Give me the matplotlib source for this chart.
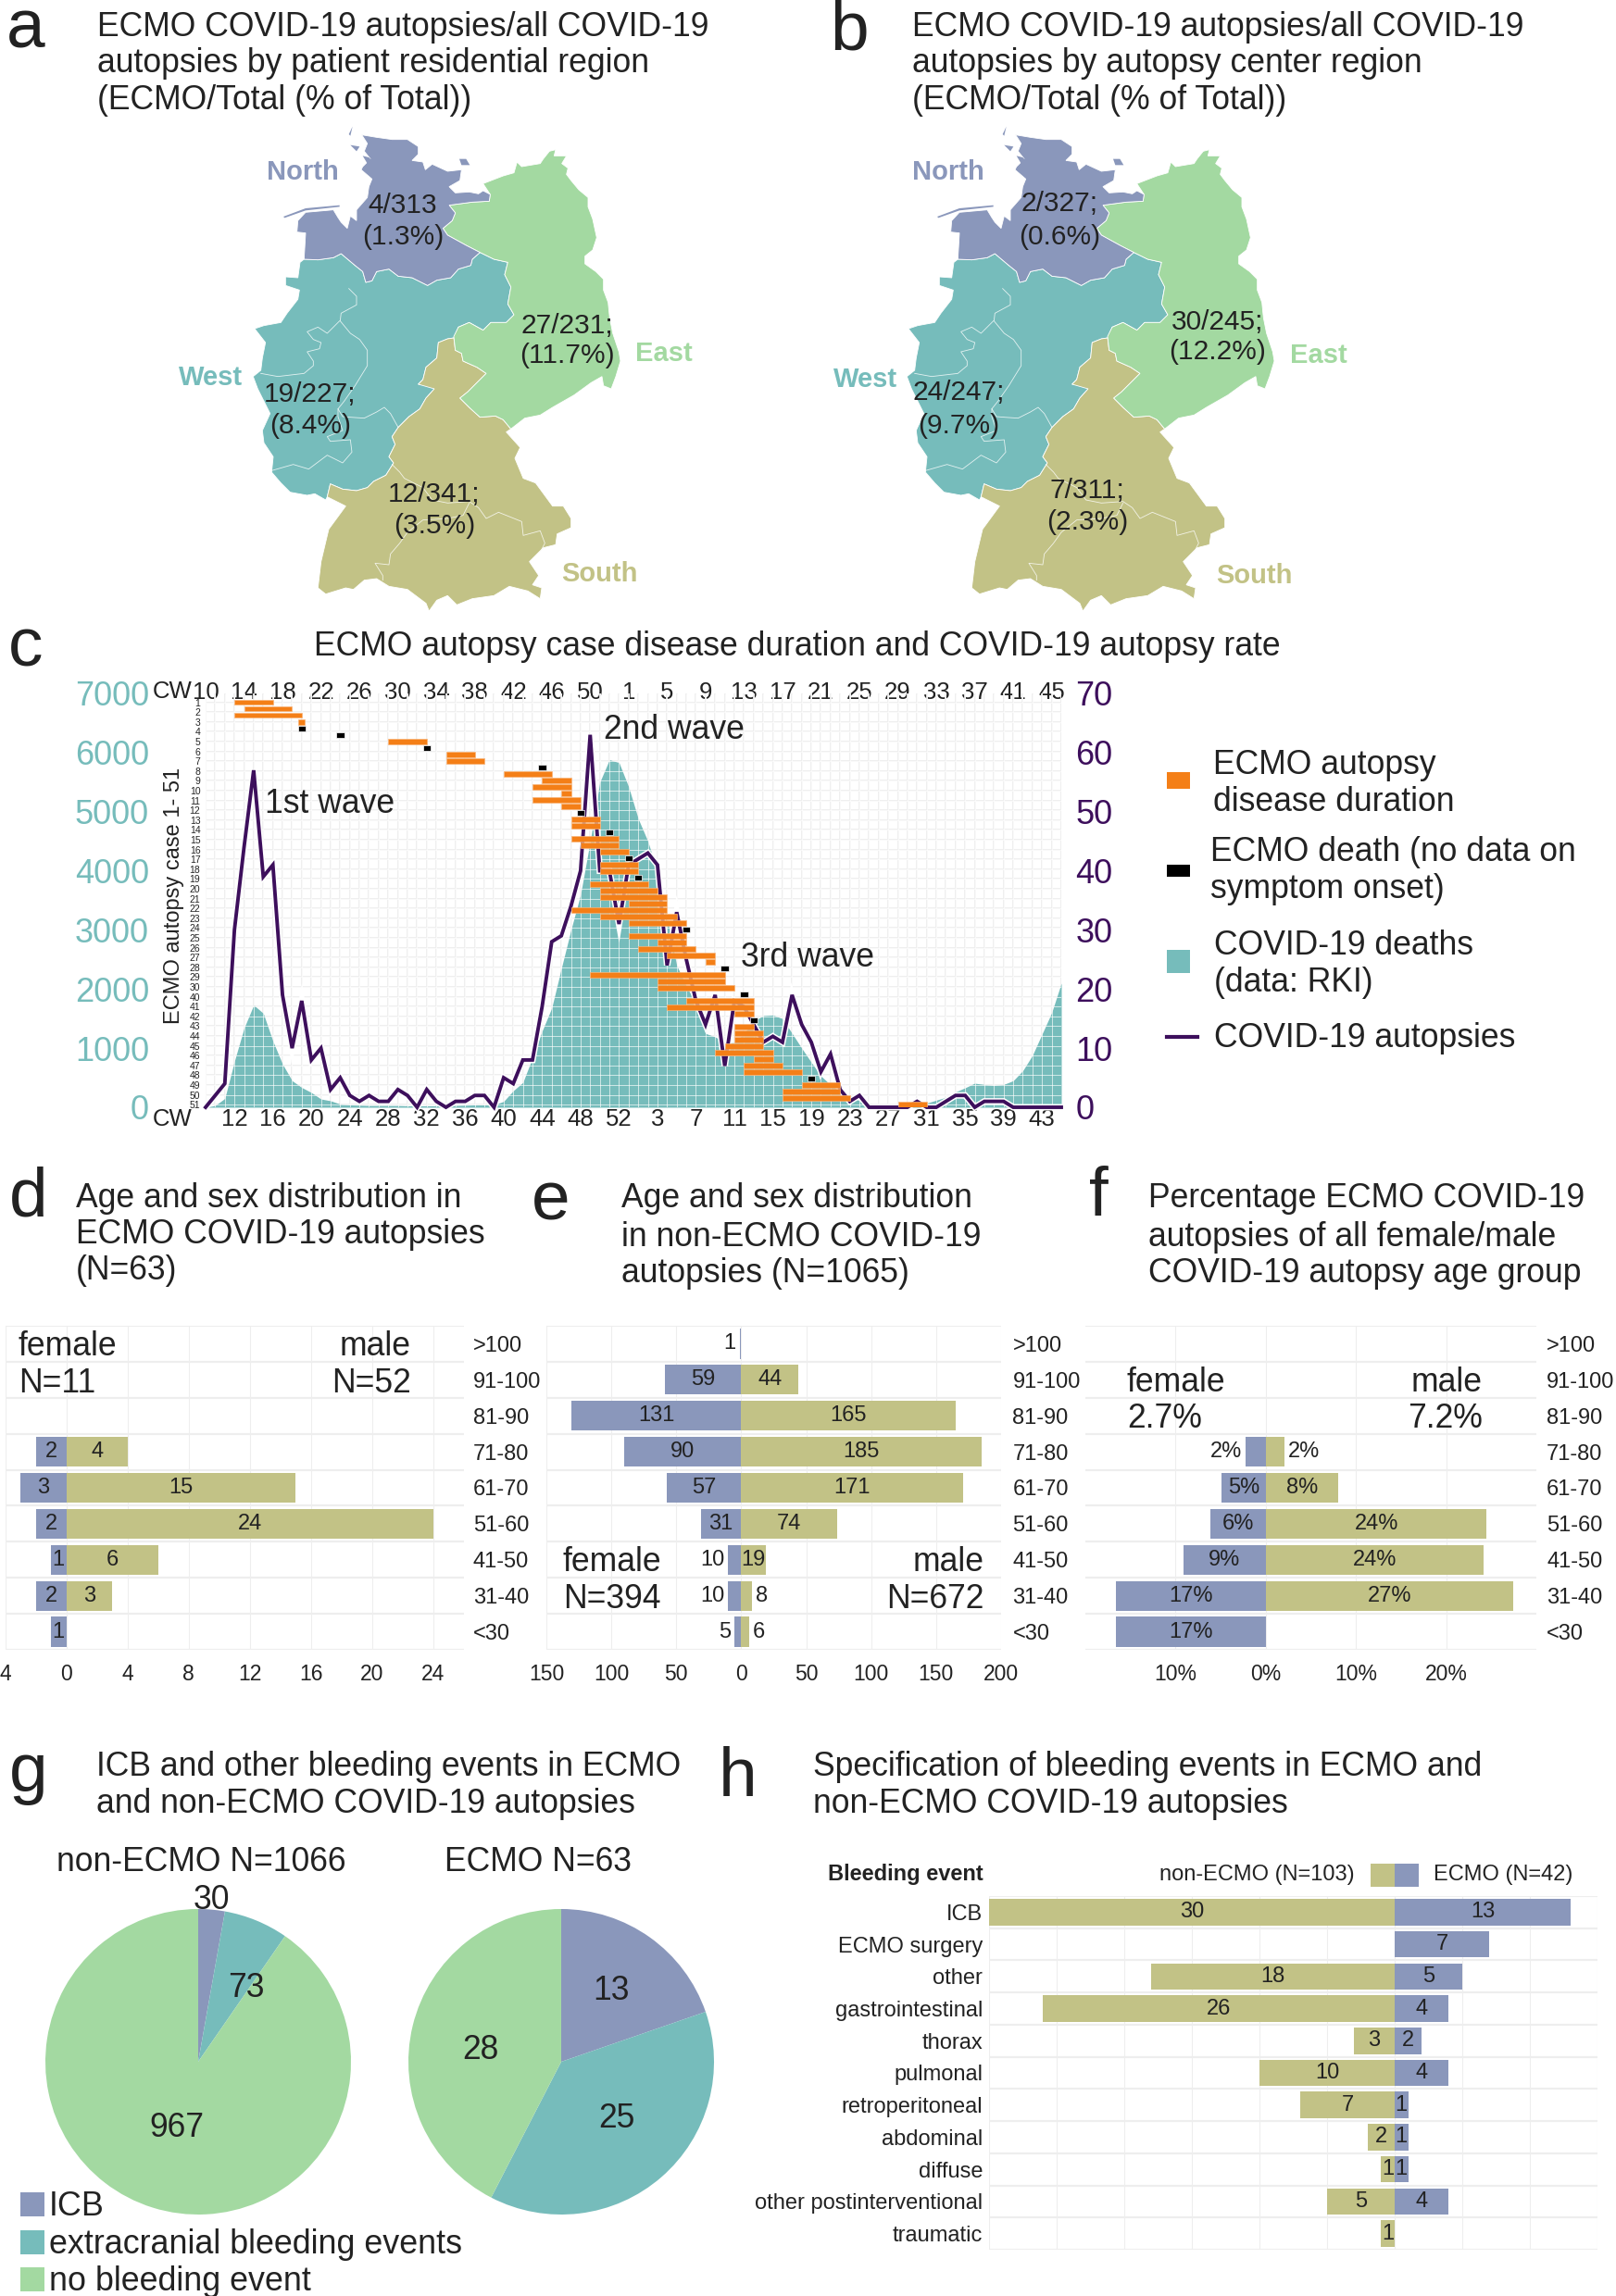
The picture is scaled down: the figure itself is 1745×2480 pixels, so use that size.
import numpy as np
import matplotlib
matplotlib.use("Agg")
import matplotlib.pyplot as plt
from matplotlib.patches import Polygon, Rectangle
import matplotlib.patheffects as pe

plt.rcParams['font.family'] = ['Liberation Sans', 'DejaVu Sans']

BLUE = '#8a97bb'
GREEN = '#a3d9a1'
TEAL = '#76bcbb'
OLIVE = '#c2c286'
PURPLE = '#3d0f5c'
ORANGE = '#f47f17'
INK = '#222222'
GRID = '#eeeeee'

# ---- map outlines
north_outline = [(422,47),(470,55),(520,62),(570,62),(605,85),(605,110),(585,130),(620,135),(628,160),(650,142),(700,165),(745,160),(740,195),(705,215),(725,235),(770,232),(800,238),(815,228),(838,240),(835,262),(780,265),(705,275),(725,300),(715,325),(685,350),(700,372),(760,405),(805,428),(780,450),(775,470),(735,482),(710,510),(665,518),(635,535),(585,510),(540,505),(510,482),(470,490),(455,520),(435,525),(425,490),(400,470),(355,432),(330,445),(280,452),(235,450),(240,365),(212,362),(215,325),(240,298),(330,290),(345,315),(355,330),(375,350),(385,310),(405,325),(405,290),(440,250),(445,215),(455,190),(420,160),(425,150),(450,125),(430,100),(440,75)]
east_outline = [(925,135),(940,150),(1000,140),(1010,125),(1030,100),(1050,95),(1045,115),(1085,115),(1070,140),(1090,155),(1085,175),(1100,195),(1125,225),(1155,250),(1155,280),(1170,320),(1183,380),(1170,420),(1145,440),(1145,465),(1180,490),(1205,515),(1205,550),(1220,590),(1225,640),(1235,690),(1255,750),(1260,780),(1245,830),(1230,870),(1205,860),(1200,830),(1165,850),(1110,890),(1040,930),(1000,955),(950,965),(905,1000),(880,970),(855,958),(805,962),(770,930),(740,900),(765,880),(800,845),(825,820),(795,800),(750,780),(745,755),(725,745),(720,700),(735,670),(770,655),(815,680),(840,655),(890,655),(915,630),(895,595),(905,540),(885,500),(895,460),(850,450),(805,428),(760,405),(700,372),(685,350),(715,325),(725,300),(705,275),(780,265),(835,262),(838,240),(815,205),(880,180),(915,170)]
west_outline = [(235,450),(280,452),(330,445),(355,432),(400,470),(425,490),(435,525),(455,520),(470,490),(510,482),(540,505),(585,510),(635,535),(665,518),(710,510),(735,482),(775,470),(780,450),(805,428),(850,450),(895,460),(885,500),(905,540),(895,595),(915,630),(890,655),(840,655),(815,680),(770,655),(735,670),(720,705),(700,708),(670,720),(665,770),(630,800),(620,840),(605,855),(650,860),(657,870),(630,900),(610,935),(575,960),(540,995),(520,1025),(530,1050),(510,1090),(525,1110),(500,1150),(460,1170),(440,1190),(405,1200),(360,1195),(320,1178),(310,1220),(305,1230),(270,1210),(245,1215),(190,1205),(160,1175),(130,1140),(135,1090),(105,1045),(100,1005),(125,950),(105,910),(85,870),(70,830),(95,810),(100,770),(110,720),(75,675),(105,665),(160,655),(180,625),(215,580),(220,550),(175,535),(175,507),(215,510),(222,460)]
south_outline = [(700,708),(720,705),(725,745),(745,755),(750,780),(795,800),(825,820),(800,845),(765,880),(740,900),(770,930),(805,962),(855,958),(880,970),(905,1000),(890,1010),(935,1060),(918,1095),(945,1160),(985,1175),(1040,1250),(1075,1250),(1100,1290),(1100,1320),(1055,1340),(1050,1375),(1010,1385),(965,1430),(995,1475),(975,1505),(1005,1515),(1000,1550),(960,1525),(900,1510),(850,1540),(780,1550),(730,1570),(700,1540),(665,1555),(640,1590),(630,1565),(570,1520),(510,1510),(470,1485),(430,1490),(395,1520),(370,1515),(305,1535),(280,1515),(290,1430),(315,1325),(370,1250),(310,1220),(320,1178),(360,1195),(405,1200),(440,1190),(460,1170),(500,1150),(525,1110),(510,1090),(530,1050),(520,1025),(540,995),(575,960),(610,935),(630,900),(657,870),(605,855),(620,840),(630,800),(665,770),(670,720)]
north_islands = [[(392,20),(380,45),(385,50)],[(385,80),(415,85),(405,100)],[(425,115),(445,120),(460,135),(440,140)],[(738,125),(760,125),(772,145),(745,145)],[(168,312),(240,285),(350,275),(350,280),(240,292),(172,316)]]
state_lines = [[(380,545),(405,570),(405,598),(355,625),(352,650),(385,690),(415,710),(440,745),(440,795),(400,860),(365,910),(345,935),(360,960),(385,962),(430,965),(470,945),(495,930),(515,950),(540,995)],
               [(350,650),(310,690),(280,670),(245,685),(265,710),(290,720),(285,740),(245,750),(265,780),(265,795),(235,820),(150,830),(95,820)],
               [(345,935),(345,960),(360,1005),(310,1025),(320,1040),(385,1035),(390,1075),(360,1110),(310,1085),(250,1130),(200,1115),(130,1135)],
               [(520,1115),(545,1140),(560,1160),(620,1190),(650,1230),(700,1240),(770,1235),(800,1255),(825,1290),(865,1270),(940,1300),(945,1345),(1000,1330),(1015,1370),(1005,1390)],
               [(770,1240),(750,1280),(700,1290),(620,1295),(570,1335),(545,1370),(515,1405),(510,1440),(465,1435),(490,1475),(490,1490)]]

# ---- panel c, weeks counted from CW10 of 2020
week_top = [10,14,18,22,26,30,34,38,42,46,50,1,5,9,13,17,21,25,29,33,37,41,45]
week_bottom = [12,16,20,24,28,32,36,40,44,48,52,3,7,11,15,19,23,27,31,35,39,43]
autopsies = [0,2,4,30,44,57,39,41,19,10,18,8,10,3,5,2,1,2,1,1,3,2,0,3,1,0,1,1,2,2,
             0,5,4,8,8,17,28,29,34,40,63,40,40,31,41,42,43,41,24,33,25,18,14,19,7,18,17,14,11,12,
             11,19,14,11,6,9,3,1,2,0,0,0,0,0,1,0,0,1,2,2,0,1,1,1,0,0,0,0,0,0]
deaths = [0,30,150,780,1340,1730,1590,1120,730,450,335,250,140,110,55,40,35,30,30,30,30,25,25,25,25,30,30,35,40,40,
          40,100,280,420,840,1290,1680,2350,3000,3600,4500,5500,5880,5830,5420,4880,4500,3980,3200,2400,2050,1750,1250,1190,1100,1090,1250,1456,1550,1560,
          1500,1250,1000,760,530,380,270,200,110,60,45,40,40,40,50,70,120,170,260,330,407,385,370,385,450,620,880,1240,1600,2100]
# one entry per autopsy row: (first week, last week); a single number is a death without onset data
case_rows = [(3,7),(4,9),(3,10),(9.6,10.3),10,14,(19,23),23,(25,28),(25,29),35,(31,36),(35,38),(34,38),(37,38),(34,39),(37,39),39,
             (38,41),(38,41),42,(38,43),(39,43),(41,44),44,(41,45),(41,45),45,(40,46),(41,47),(41,48),(44,48),(38,48),(41,49),(44,50),
             50,(44,50),(47,50),(45,51),(48,53),(52,53),54,(40,54),(47,54),(47,55),56,(50,57),(48,57),(55,57),57,(55,57),(55,58),(55,58),
             (54,58),(53,59),(57,59),(56,60),(56,62),63,(62,66),(60,66),(60,67),(72,75)]
row_labels = [str(i) for i in range(1,31)] + [str(i) for i in range(40,52)]

# ---- panels d, e, f
ages = ['>100','91-100','81-90','71-80','61-70','51-60','41-50','31-40','<30']
ecmo_female = [0,0,0,2,3,2,1,2,1]
ecmo_male = [0,0,0,4,15,24,6,3,0]
non_female = [1,59,131,90,57,31,10,10,5]
non_male = [0,44,165,185,171,74,19,8,6]
pct_female = [0,0,0,2.2,4.9,6.1,9.1,16.6,16.6]
pct_male = [0,0,0,2.1,8.0,24.5,24.1,27.4,0]
pct_female_labels = ['','','','2%','5%','6%','9%','17%','17%']
pct_male_labels = ['','','','2%','8%','24%','24%','27%','']

# ---- panel g, h
pie_labels = ['ICB','extracranial bleeding events','no bleeding event']
pie_non = [30,73,967]
pie_ecmo = [13,25,28]
events = ['ICB','ECMO surgery','other','gastrointestinal','thorax','pulmonal','retroperitoneal','abdominal','diffuse','other postinterventional','traumatic']
events_non = [30,0,18,26,3,10,7,2,1,5,1]
events_ecmo = [13,7,5,4,2,4,1,1,1,4,0]

W, H = 1745, 2480
fig = plt.figure(figsize=(W/100, H/100), dpi=100, facecolor='white')


def box(x0, y0, x1, y1, **kw):
	return fig.add_axes([x0/W, 1-y1/H, (x1-x0)/W, (y1-y0)/H], **kw)


over = fig.add_axes([0,0,1,1], zorder=20)
over.set_xlim(0,W)
over.set_ylim(H,0)
over.axis('off')
over.patch.set_alpha(0)


def txt(x, y, s, size=25.6, ha='left', va='center', color=INK, **kw):
	if va == 'center':
		y = y + 2.5
	return over.text(x, y, s, fontsize=size, ha=ha, va=va, color=color, **kw)


def title(x, ys, lines):
	for y, line in zip(ys, lines):
		txt(x, y, line)


def draw_map(dx):
	# crop coordinates to figure pixels
	conv = lambda pts: [(250+p[0]/3+dx, 130+p[1]/3) for p in pts]
	for outline, col in ((west_outline,TEAL),(south_outline,OLIVE),(east_outline,GREEN),(north_outline,BLUE)):
		over.add_patch(Polygon(conv(outline), closed=True, fc=col, ec='white', lw=0.6))
	for isl in north_islands:
		over.add_patch(Polygon(conv(isl), closed=True, fc=BLUE, ec='none'))
	for line in state_lines:
		xy = np.array(conv(line))
		over.plot(xy[:,0], xy[:,1], color='white', lw=0.6, alpha=0.8)


def pyramid(ax, left, right, left_labels, right_labels, xlim, ticks, ticklabels, inside_min, side_pad, pad_r):
	y = np.arange(len(ages))
	ax.barh(y, -np.array(left), height=0.83, color=BLUE, zorder=3)
	ax.barh(y, right, height=0.83, color=OLIVE, zorder=3)
	ax.set_xlim(*xlim)
	ax.set_ylim(len(ages)-0.5, -0.5)
	ax.set_xticks(ticks)
	ax.set_xticklabels(ticklabels, fontsize=16.5, color=INK)
	ax.yaxis.tick_right()
	ax.set_yticks(y)
	ax.set_yticklabels(ages, fontsize=17, color=INK)
	ax.set_yticks(np.arange(-0.5, len(ages)), minor=True)
	ax.tick_params(axis='both', which='both', length=0)
	ax.tick_params(axis='x', pad=11)
	ax.tick_params(axis='y', pad=pad_r)
	ax.grid(axis='x', color=GRID, lw=0.8)
	ax.grid(axis='y', which='minor', color=GRID, lw=1.6)
	ax.grid(axis='y', which='major', visible=False)
	ax.set_axisbelow(True)
	for s in ax.spines.values():
		s.set_visible(False)
	for i in y:
		if left_labels[i]:
			if left[i] >= inside_min:
				ax.text(-left[i]/2, i, left_labels[i], ha='center', va='center', fontsize=17, color=INK, zorder=4)
			else:
				ax.text(-left[i]-side_pad, i, left_labels[i], ha='right', va='center', fontsize=17, color=INK, zorder=4)
		if right_labels[i]:
			if right[i] >= inside_min:
				ax.text(right[i]/2, i, right_labels[i], ha='center', va='center', fontsize=17, color=INK, zorder=4)
			else:
				ax.text(right[i]+side_pad, i, right_labels[i], ha='left', va='center', fontsize=17, color=INK, zorder=4)


# ---- panel letters and titles
for x, y, s in [(7,51,'a'),(896,53,'b'),(9,719,'c'),(10,1313,'d'),(574,1318,'e'),(1176,1313,'f'),(10,1935,'g'),(776,1940,'h')]:
	txt(x, y, s, size=54, va='baseline')
title(105, (27,66,106), ['ECMO COVID-19 autopsies/all COVID-19','autopsies by patient residential region','(ECMO/Total (% of Total))'])
title(985, (27,66,106), ['ECMO COVID-19 autopsies/all COVID-19','autopsies by autopsy center region','(ECMO/Total (% of Total))'])
txt(861, 696, 'ECMO autopsy case disease duration and COVID-19 autopsy rate', ha='center')
title(82, (1292,1331,1370), ['Age and sex distribution in','ECMO COVID-19 autopsies','(N=63)'])
title(671, (1292,1334,1373), ['Age and sex distribution','in non-ECMO COVID-19','autopsies (N=1065)'])
title(1240, (1292,1334,1373), ['Percentage ECMO COVID-19','autopsies of all female/male','COVID-19 autopsy age group'])
title(104, (1906,1946), ['ICB and other bleeding events in ECMO','and non-ECMO COVID-19 autopsies'])
title(878, (1906,1946), ['Specification of bleeding events in ECMO and','non-ECMO COVID-19 autopsies'])

# ---- panels a, b
draw_map(0)
draw_map(706)
for x, y, s, col in [(327,183,'North',BLUE),(228,405,'West',TEAL),(717,380,'East',GREEN),(647,618,'South',OLIVE),
                     (1024,184,'North',BLUE),(935,407,'West',TEAL),(1424,381,'East',GREEN),(1354,619,'South',OLIVE)]:
	txt(x, y, s, size=21, ha='center', color=col, fontweight='bold')
for x, y, s in [(435,220,'4/313'),(435,253,'(1.3%)'),(612,349,'27/231;'),(612,382,'(11.7%)'),(335,423,'19/227;'),(335,457,'(8.4%)'),(469,531,'12/341;'),(469,565,'(3.5%)'),
                (1144,218,'2/327;'),(1144,253,'(0.6%)'),(1315,345,'30/245;'),(1315,378,'(12.2%)'),(1035,422,'24/247;'),(1035,457,'(9.7%)'),(1174,527,'7/311;'),(1174,562,'(2.3%)')]:
	txt(x, y, s, size=21.5, ha='center')

# ---- panel c
ax = box(222, 749, 1146, 1196)
weeks = np.arange(len(deaths))
ax.fill_between(weeks, deaths, color=TEAL, lw=0, zorder=1)
ax.set_xlim(0, 89)
ax.set_ylim(0, 7000)
ax.set_yticks(np.arange(0, 7001, 1000))
ax.tick_params(axis='y', length=0, pad=44, labelsize=26, labelcolor=TEAL)
ax.set_xticks(np.arange(3, 89, 4))
ax.set_xticklabels(week_bottom, fontsize=18.5, color=INK)
ax.tick_params(axis='x', length=0, pad=1)
for s in ax.spines.values():
	s.set_visible(False)
case_top, case_bottom = -1.37, 62.4
row_pos = np.linspace(0, 62, len(row_labels))
grid_y = (case_bottom-row_pos)/(case_bottom-case_top)*7000
# grey under the area, pale over it
ax.vlines(weeks, 0, 7000, color=GRID, lw=1.3, zorder=0.5)
ax.hlines(grid_y, 0, 89, color=GRID, lw=1.3, zorder=0.5)
ax.vlines(weeks, 0, 7000, color='white', lw=0.7, alpha=0.65, zorder=2)
ax.hlines(grid_y, 0, 89, color='white', lw=0.7, alpha=0.65, zorder=2)

ax_top = ax.secondary_xaxis('top')
ax_top.set_xticks(np.arange(0, 89, 4))
ax_top.set_xticklabels(week_top, fontsize=18.5, color=INK, va='center')
ax_top.tick_params(axis='x', length=0, pad=1)
ax_top.spines['top'].set_visible(False)

ax_aut = ax.twinx()
ax_aut.plot(weeks, autopsies, color=PURPLE, lw=2.8, solid_joinstyle='miter', zorder=3,
            path_effects=[pe.withStroke(linewidth=5, foreground='white')], clip_on=False)
ax_aut.set_ylim(0, 70)
ax_aut.set_yticks(np.arange(0, 71, 10))
ax_aut.tick_params(axis='y', length=0, pad=11, labelsize=26, labelcolor=PURPLE)
for s in ax_aut.spines.values():
	s.set_visible(False)

ax_case = ax.twinx()
ax_case.yaxis.tick_left()
ax_case.set_ylim(case_bottom, case_top)
ax_case.set_yticks(row_pos)
ax_case.set_yticklabels(row_labels, fontsize=7.5, color=INK)
ax_case.tick_params(axis='y', length=0, pad=4)
for s in ax_case.spines.values():
	s.set_visible(False)
for r, row in enumerate(case_rows):
	if isinstance(row, tuple):
		ax_case.barh(r, row[1]-row[0], left=row[0], height=0.82, color=ORANGE, ec='#f8b47a', lw=0.5, zorder=5)
	else:
		ax_case.barh(r, 0.8, left=row-0.4, height=0.85, color='black', ec='white', lw=0.5, zorder=5)

txt(186, 745, 'CW', size=18.5, ha='center')
txt(186, 1206, 'CW', size=18.5, ha='center')
txt(188, 965, 'ECMO autopsy case 1- 51', size=17, ha='center', rotation=90)
txt(356, 866, '1st wave', size=25.6, ha='center')
txt(728, 786, '2nd wave', size=25.6, ha='center')
txt(872, 1032, '3rd wave', size=25.6, ha='center')

over.add_patch(Rectangle((1260,834), 25, 18, fc=ORANGE, ec='none'))
over.add_patch(Rectangle((1260,934), 25, 13, fc='black', ec='none'))
over.add_patch(Rectangle((1260,1026), 25, 25, fc=TEAL, ec='none'))
over.plot([1260,1293], [1120,1120], color=PURPLE, lw=3)
txt(1310, 824, 'ECMO autopsy')
txt(1310, 864, 'disease duration')
txt(1307, 918, 'ECMO death (no data on')
txt(1307, 958, 'symptom onset)')
txt(1311, 1019, 'COVID-19 deaths')
txt(1311, 1059, '(data: RKI)')
txt(1311, 1119, 'COVID-19 autopsies')

# ---- panels d, e, f
ax_d = box(5.5, 1432, 501, 1782)
pyramid(ax_d, ecmo_female, ecmo_male, [str(v) if v else '' for v in ecmo_female], [str(v) if v else '' for v in ecmo_male],
        (-4, 26), np.arange(-4, 25, 4), ['4','0','4','8','12','16','20','24'], 0.5, 0, 7)
ax_e = box(590, 1432, 1081, 1782)
pyramid(ax_e, non_female, non_male, [str(v) for v in non_female], [str(v) if v else '' for v in non_male],
        (-150, 200), np.arange(-150, 201, 50), ['150','100','50','0','50','100','150','200'], 12, 3, 9)
ax_f = box(1172, 1432, 1659, 1782)
pyramid(ax_f, pct_female, pct_male, pct_female_labels, pct_male_labels,
        (-20, 30), [-10, 0, 10, 20], ['10%','0%','10%','20%'], 3, 0.4, 8)
for x, y, s, ha in [(20,1452,'female','left'),(20,1492,'N=11','left'),(444,1452,'male','right'),(444,1492,'N=52','right'),
                    (608,1685,'female','left'),(608,1725,'N=394','left'),(1063,1685,'male','right'),(1063,1725,'N=672','right'),
                    (1217,1491,'female','left'),(1217,1530,'2.7%','left'),(1601,1491,'male','right'),(1601,1530,'7.2%','right')]:
	txt(x, y, s, size=25.6, ha=ha)

# ---- panel g
for cx, vals in ((214, pie_non), (606, pie_ecmo)):
	ax_p = box(cx-165, 2062, cx+165, 2392)
	ax_p.pie(vals, colors=[BLUE, TEAL, GREEN], startangle=90, counterclock=False, radius=1)
	ax_p.set_xlim(-1, 1)
	ax_p.set_ylim(-1, 1)
txt(217, 2009, 'non-ECMO N=1066', ha='center')
txt(581, 2009, 'ECMO N=63', ha='center')
for x, y, s in [(228,2050,'30'),(266,2145,'73'),(191,2296,'967'),(660,2148,'13'),(666,2286,'25'),(519,2212,'28')]:
	txt(x, y, s, size=25.6, ha='center')
for y, col, s in zip((2381,2422,2462), (BLUE,TEAL,GREEN), pie_labels):
	over.add_patch(Rectangle((22,y-13), 26, 26, fc=col, ec='none'))
	txt(53, y, s, size=25.8)

# ---- panel h
ax_h = box(1068, 2048, 1725, 2430)
y = np.arange(len(events))
ax_h.barh(y, -np.array(events_non), height=0.82, color=OLIVE, zorder=3)
ax_h.barh(y, events_ecmo, height=0.82, color=BLUE, zorder=3)
ax_h.set_xlim(-30, 15)
ax_h.set_ylim(len(events)-0.5, -0.5)
ax_h.set_xticks(np.arange(-30, 16, 5))
ax_h.set_xticklabels([])
ax_h.set_yticks(y)
ax_h.set_yticklabels(events, fontsize=17, color=INK)
ax_h.set_yticks(np.arange(-0.5, len(events)), minor=True)
ax_h.tick_params(axis='both', which='both', length=0)
ax_h.tick_params(axis='y', pad=5)
ax_h.grid(axis='x', color=GRID, lw=0.8)
ax_h.grid(axis='y', which='minor', color=GRID, lw=1.6)
ax_h.grid(axis='y', which='major', visible=False)
ax_h.set_axisbelow(True)
for s in ax_h.spines.values():
	s.set_visible(False)
for i in y:
	if events_non[i]:
		ax_h.text(-events_non[i]/2, i, str(events_non[i]), ha='center', va='center', fontsize=17, color=INK, zorder=4)
	if events_ecmo[i]:
		ax_h.text(events_ecmo[i]/2, i, str(events_ecmo[i]), ha='center', va='center', fontsize=17, color=INK, zorder=4)
txt(1062, 2022, 'Bleeding event', size=17, ha='right', fontweight='bold')
txt(1463, 2023, 'non-ECMO (N=103)', size=17, ha='right')
txt(1548, 2023, 'ECMO (N=42)', size=17)
over.add_patch(Rectangle((1480,2013), 25.6, 25, fc=OLIVE, ec='none'))
over.add_patch(Rectangle((1505.6,2013), 26, 25, fc=BLUE, ec='none'))

fig.savefig('out.png', dpi=100)
